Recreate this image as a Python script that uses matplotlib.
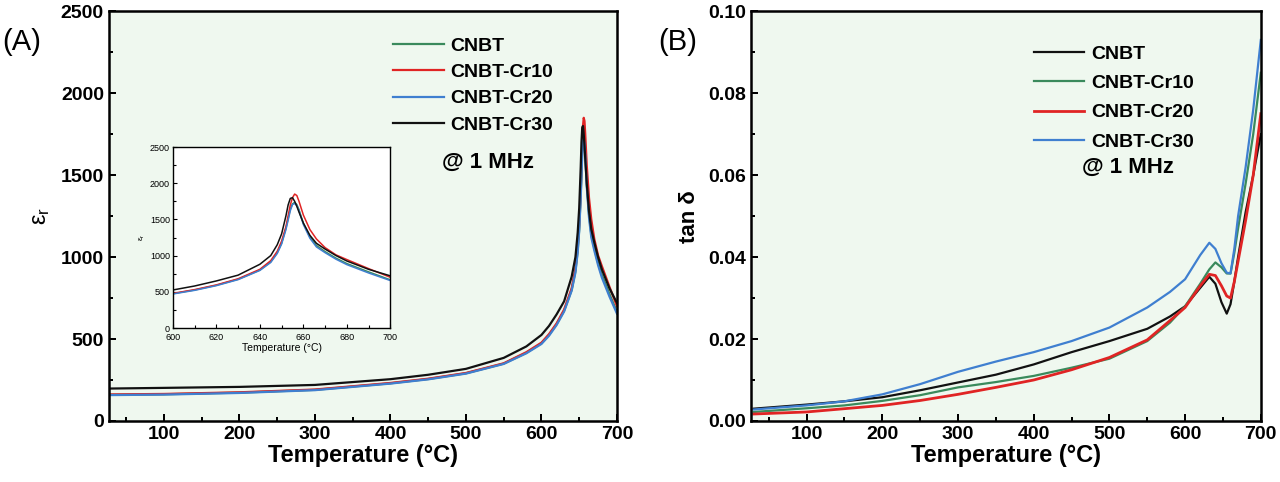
import matplotlib.pyplot as plt
from matplotlib.ticker import MultipleLocator

plt.rcParams['font.family'] = ['Liberation Sans', 'DejaVu Sans']

# panel A: dielectric constant vs temperature
temp_a = [30, 100, 200, 300, 400, 450, 500, 550, 580, 600, 610, 620, 630, 640, 645, 648, 650, 652, 653, 654,
          655, 656, 657, 658, 660, 663, 666, 670, 675, 680, 690, 700]
er_cnbt = [160, 163, 173, 190, 230, 256, 291, 350, 416, 474, 525, 590, 673, 800, 915, 1040, 1170, 1380, 1510, 1640,
           1715, 1735, 1705, 1635, 1445, 1260, 1140, 1055, 965, 890, 775, 665]
er_cr10 = [162, 165, 175, 192, 232, 258, 293, 352, 420, 478, 530, 595, 680, 810, 930, 1060, 1200, 1400, 1550, 1700,
           1800, 1850, 1830, 1750, 1560, 1360, 1230, 1110, 1010, 945, 820, 700]
er_cr20 = [158, 161, 171, 188, 228, 254, 289, 348, 413, 470, 520, 585, 668, 795, 905, 1030, 1160, 1360, 1490, 1620,
           1705, 1720, 1690, 1620, 1430, 1240, 1120, 1040, 950, 875, 760, 655]
er_cr30 = [198, 202, 208, 220, 255, 282, 318, 385, 455, 525, 580, 650, 730, 880, 1000, 1150, 1300, 1550, 1700, 1790,
           1800, 1750, 1680, 1600, 1450, 1280, 1170, 1090, 1000, 925, 810, 720]

# panel B: loss tangent vs temperature
temp_b = [30, 100, 150, 200, 250, 300, 350, 400, 450, 500, 550, 580, 600, 620, 632, 640, 648, 655, 660, 665, 670,
          680, 690, 700]
tan_cnbt = [0.0030, 0.0040, 0.0048, 0.0058, 0.0075, 0.0094, 0.0113, 0.0138, 0.0168, 0.0195, 0.0225, 0.0255, 0.0280,
            0.0325, 0.0352, 0.0335, 0.0290, 0.0262, 0.0285, 0.0340, 0.0400, 0.0510, 0.0600, 0.0700]
tan_cr10 = [0.0022, 0.0031, 0.0038, 0.0049, 0.0063, 0.0082, 0.0095, 0.0110, 0.0130, 0.0152, 0.0195, 0.0240, 0.0280,
            0.0335, 0.0370, 0.0387, 0.0375, 0.0360, 0.0360, 0.0410, 0.0470, 0.0580, 0.0700, 0.0850]
tan_cr20 = [0.0017, 0.0022, 0.0030, 0.0038, 0.0050, 0.0065, 0.0082, 0.0100, 0.0125, 0.0155, 0.0198, 0.0245, 0.0277,
            0.0330, 0.0358, 0.0355, 0.0330, 0.0305, 0.0300, 0.0340, 0.0390, 0.0490, 0.0600, 0.0750]
tan_cr30 = [0.0028, 0.0038, 0.0048, 0.0065, 0.0090, 0.0120, 0.0145, 0.0168, 0.0195, 0.0228, 0.0277, 0.0315, 0.0346,
            0.0405, 0.0435, 0.0420, 0.0385, 0.0362, 0.0360, 0.0420, 0.0500, 0.0620, 0.0760, 0.0930]

green = '#3a8a5c'
red = '#e02424'
blue = '#3f7fd0'
black = '#111111'
bg = '#eff8ef'

fig = plt.figure(figsize=(12.8, 4.82), dpi=100)
axA = fig.add_axes([0.085, 0.1266, 0.397, 0.85])
axB = fig.add_axes([0.587, 0.1266, 0.398, 0.85])


def style(ax, bold=True, size=14, width=1.8):
    ax.set_facecolor(bg)
    for s in ax.spines.values():
        s.set_linewidth(width)
    ax.tick_params(which='both', direction='in', top=False, right=False, width=width * 0.8)
    ax.tick_params(which='major', length=5, labelsize=size)
    ax.tick_params(which='minor', length=3)
    if bold:
        for lab in ax.get_xticklabels() + ax.get_yticklabels():
            lab.set_fontweight('bold')


# ---- panel A
axA.plot(temp_a, er_cnbt, color=green, lw=1.6, label='CNBT')
axA.plot(temp_a, er_cr10, color=red, lw=1.6, label='CNBT-Cr10')
axA.plot(temp_a, er_cr20, color=blue, lw=1.6, label='CNBT-Cr20')
axA.plot(temp_a, er_cr30, color=black, lw=1.6, label='CNBT-Cr30')
axA.set_xlim(27, 700)
axA.set_ylim(0, 2500)
axA.xaxis.set_major_locator(MultipleLocator(100))
axA.xaxis.set_minor_locator(MultipleLocator(50))
axA.yaxis.set_major_locator(MultipleLocator(500))
axA.yaxis.set_minor_locator(MultipleLocator(250))
style(axA)
axA.set_xlabel('Temperature (°C)', fontsize=17, fontweight='bold', labelpad=1)
axA.set_ylabel(r'$\mathregular{\varepsilon_r}$', fontsize=17, labelpad=6)
axA.legend(loc='upper left', bbox_to_anchor=(0.525, 0.98), frameon=False,
           prop={'weight': 'bold', 'size': 14}, handlelength=2.6,
           handletextpad=0.35, labelspacing=0.45)
axA.text(0.655, 0.63, '@ 1 MHz', transform=axA.transAxes, fontsize=16,
         fontweight='bold', va='center')

# inset
axI = fig.add_axes([0.135, 0.3195, 0.170, 0.3755])
axI.plot(temp_a, er_cnbt, color=green, lw=1.1)
axI.plot(temp_a, er_cr10, color=red, lw=1.1)
axI.plot(temp_a, er_cr20, color=blue, lw=1.1)
axI.plot(temp_a, er_cr30, color=black, lw=1.1)
axI.set_xlim(600, 700)
axI.set_ylim(0, 2500)
axI.xaxis.set_major_locator(MultipleLocator(20))
axI.xaxis.set_minor_locator(MultipleLocator(10))
axI.yaxis.set_major_locator(MultipleLocator(500))
axI.yaxis.set_minor_locator(MultipleLocator(250))
style(axI, bold=False, size=6.5, width=1.0)
axI.set_facecolor('white')
axI.tick_params(which='major', length=3)
axI.tick_params(which='minor', length=2)
axI.tick_params(axis='x', pad=3.5)
axI.tick_params(axis='y', pad=2)
axI.set_xlabel('Temperature (°C)', fontsize=7.5, labelpad=1)
axI.set_ylabel(r'$\mathregular{\varepsilon_r}$', fontsize=6, labelpad=2)

# ---- panel B
axB.plot(temp_b, tan_cnbt, color=black, lw=1.6, label='CNBT')
axB.plot(temp_b, tan_cr10, color=green, lw=1.6, label='CNBT-Cr10')
axB.plot(temp_b, tan_cr20, color=red, lw=2.0, label='CNBT-Cr20')
axB.plot(temp_b, tan_cr30, color=blue, lw=1.6, label='CNBT-Cr30')
axB.set_xlim(27, 700)
axB.set_ylim(0, 0.10)
axB.xaxis.set_major_locator(MultipleLocator(100))
axB.xaxis.set_minor_locator(MultipleLocator(50))
axB.yaxis.set_major_locator(MultipleLocator(0.02))
axB.yaxis.set_minor_locator(MultipleLocator(0.01))
axB.yaxis.set_major_formatter(lambda v, p: f'{v:.2f}')
style(axB)
axB.set_xlabel('Temperature (°C)', fontsize=17, fontweight='bold', labelpad=1)
axB.set_ylabel('tan δ', fontsize=16, fontweight='bold', labelpad=6)
axB.legend(loc='upper left', bbox_to_anchor=(0.52, 0.96), frameon=False,
           prop={'weight': 'bold', 'size': 14}, handlelength=2.6,
           handletextpad=0.35, labelspacing=0.6)
axB.text(0.65, 0.618, '@ 1 MHz', transform=axB.transAxes, fontsize=16,
         fontweight='bold', va='center')

fig.text(0.002, 0.912, '(A)', fontsize=21, va='center')
fig.text(0.514, 0.912, '(B)', fontsize=21, va='center')

fig.savefig('out.png', dpi=100, facecolor='white')
